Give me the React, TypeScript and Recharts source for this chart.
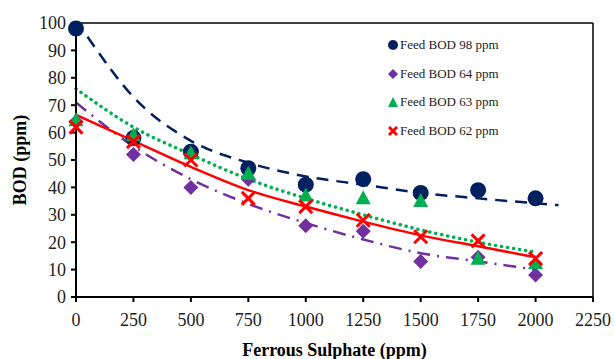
import React from 'react';
import {
  ComposedChart,
  Scatter,
  Line,
  XAxis,
  YAxis,
  Legend,
  ReferenceLine,
} from 'recharts';

// measured points, x = ferrous sulphate dose (ppm)
const doses = [0, 250, 500, 750, 1000, 1250, 1500, 1750, 2000];
const bod98 = [98, 58, 53, 47, 41, 43, 38, 39, 36];
const bod64 = [64, 52, 40, 43, 26, 24, 13, 14.5, 8];
const bod63 = [64.5, 59, 52.5, 45, 37, 36, 35, 14, 12.4];
const bod62 = [62, 56.7, 50, 36, 33, 28, 22, 20.5, 14];

// trendlines
const trend98X = [50, 250, 500, 750, 1000, 1250, 1500, 1750, 2000, 2100];
const trend98Y = [95, 73, 57, 49, 44, 41, 38, 36, 34.2, 33.5];
const trendX = [0, 250, 500, 750, 1000, 1250, 1500, 1750, 2000];
const trend64Y = [71, 55, 43, 34, 27, 21, 16, 13, 10];
const trend63Y = [76, 62, 52, 43, 36, 30, 24.5, 20, 16.4];
const trend62Y = [66.5, 57, 47.5, 39, 33, 27.5, 22.5, 18.5, 14.5];

const xTicks = [0, 250, 500, 750, 1000, 1250, 1500, 1750, 2000, 2250];
const yTicks = [0, 10, 20, 30, 40, 50, 60, 70, 80, 90, 100];

const NAVY = '#002060';
const PURPLE = '#7030A0';
const GREEN = '#00B050';
const RED = '#FF0000';
const FONT = '"Liberation Serif", serif';

const toPoints = (xs: number[], ys: number[]) => xs.map((x, i) => ({ x, y: ys[i] }));

const CircleDot = (p: any) => <circle cx={p.cx} cy={p.cy} r={8} fill={NAVY} />;
const DiamondDot = (p: any) => (
  <polygon
    points={`${p.cx},${p.cy - 7.5} ${p.cx + 7.5},${p.cy} ${p.cx},${p.cy + 7.5} ${p.cx - 7.5},${p.cy}`}
    fill={PURPLE}
  />
);
const TriangleDot = (p: any) => (
  <polygon
    points={`${p.cx},${p.cy - 8} ${p.cx + 7.5},${p.cy + 6} ${p.cx - 7.5},${p.cy + 6}`}
    fill={GREEN}
  />
);
const CrossDot = (p: any) => (
  <g stroke={RED} strokeWidth={3}>
    <line x1={p.cx - 6.5} y1={p.cy - 6.5} x2={p.cx + 6.5} y2={p.cy + 6.5} />
    <line x1={p.cx - 6.5} y1={p.cy + 6.5} x2={p.cx + 6.5} y2={p.cy - 6.5} />
  </g>
);

const legendItems = [
  { name: 'Feed BOD 98 ppm', icon: <circle cx={6} cy={6} r={5} fill={NAVY} /> },
  { name: 'Feed BOD 64 ppm', icon: <polygon points="6,1 11,6 6,11 1,6" fill={PURPLE} /> },
  { name: 'Feed BOD 63 ppm', icon: <polygon points="6,1 11,11 1,11" fill={GREEN} /> },
  {
    name: 'Feed BOD 62 ppm',
    icon: (
      <g stroke={RED} strokeWidth={3}>
        <line x1={2} y1={2} x2={10} y2={10} />
        <line x1={2} y1={10} x2={10} y2={2} />
      </g>
    ),
  },
];

const renderLegend = () => (
  <div style={{ fontFamily: FONT, fontSize: 13, color: '#222' }}>
    {legendItems.map((item) => (
      <div key={item.name} style={{ display: 'flex', alignItems: 'center', height: 28.5 }}>
        <svg width={12} height={12} style={{ marginRight: 1 }}>
          {item.icon}
        </svg>
        <span>{item.name}</span>
      </div>
    ))}
  </div>
);

export default function App() {
  const tick = { fontFamily: FONT, fontSize: 18, fill: '#222' };
  return (
    <div style={{ position: 'absolute', left: 0, top: 0, background: '#fff', fontFamily: FONT }}>
      <ComposedChart
        width={614}
        height={359}
        margin={{ top: 23, right: 21, left: 16, bottom: 2 }}
        style={{ fontFamily: FONT }}
      >
        <XAxis
          dataKey="x"
          type="number"
          domain={[0, 2250]}
          ticks={xTicks}
          tick={tick}
          tickSize={5}
          tickMargin={11}
          stroke="#000"
          strokeWidth={2}
          height={60}
          label={{
            value: 'Ferrous Sulphate (ppm)',
            position: 'insideBottom',
            offset: 1,
            fontFamily: FONT,
            fontSize: 18,
            fontWeight: 'bold',
            fill: '#000',
          }}
        />
        <YAxis
          dataKey="y"
          type="number"
          domain={[0, 100]}
          ticks={yTicks}
          tick={tick}
          tickSize={5}
          tickMargin={5}
          stroke="#000"
          strokeWidth={2}
          width={60}
          label={{
            value: 'BOD (ppm)',
            angle: -90,
            position: 'insideLeft',
            offset: 4,
            fontFamily: FONT,
            fontSize: 18,
            fontWeight: 'bold',
            fill: '#000',
            style: { textAnchor: 'middle' },
          }}
        />
        <ReferenceLine y={100} stroke="#000" strokeWidth={1.5} />
        <ReferenceLine x={2250} stroke="#000" strokeWidth={1.5} />
        <Legend
          layout="vertical"
          align="center"
          verticalAlign="middle"
          content={renderLegend}
          wrapperStyle={{ position: 'absolute', left: 387, top: 31, width: 140 }}
        />
        <Scatter name="Feed BOD 98 ppm" data={toPoints(doses, bod98)} shape={CircleDot} isAnimationActive={false} />
        <Scatter name="Feed BOD 64 ppm" data={toPoints(doses, bod64)} shape={DiamondDot} isAnimationActive={false} />
        <Scatter name="Feed BOD 63 ppm" data={toPoints(doses, bod63)} shape={TriangleDot} isAnimationActive={false} />
        <Scatter name="Feed BOD 62 ppm" data={toPoints(doses, bod62)} shape={CrossDot} isAnimationActive={false} />
        <Line
          data={toPoints(trend98X, trend98Y)}
          dataKey="y"
          type="monotone"
          stroke={NAVY}
          strokeWidth={2.5}
          strokeDasharray="12 8"
          dot={false}
          legendType="none"
          isAnimationActive={false}
        />
        <Line
          data={toPoints(trendX, trend64Y)}
          dataKey="y"
          type="monotone"
          stroke={PURPLE}
          strokeWidth={2.5}
          strokeDasharray="13 7 2 7"
          dot={false}
          legendType="none"
          isAnimationActive={false}
        />
        <Line
          data={toPoints(trendX, trend63Y)}
          dataKey="y"
          type="monotone"
          stroke={GREEN}
          strokeWidth={3.5}
          strokeLinecap="round"
          strokeDasharray="0.1 6"
          dot={false}
          legendType="none"
          isAnimationActive={false}
        />
        <Line
          data={toPoints(trendX, trend62Y)}
          dataKey="y"
          type="monotone"
          stroke={RED}
          strokeWidth={2.5}
          dot={false}
          legendType="none"
          isAnimationActive={false}
        />
      </ComposedChart>
    </div>
  );
}
